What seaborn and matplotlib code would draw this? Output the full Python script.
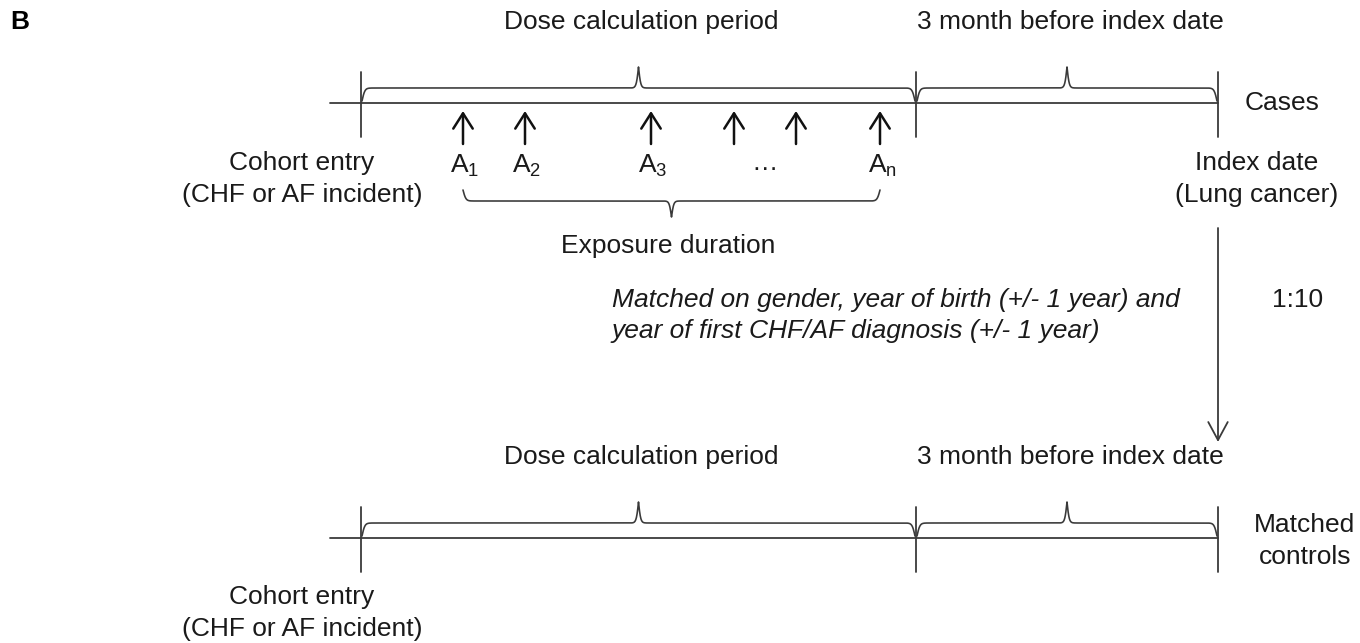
import numpy as np
import matplotlib
matplotlib.use('Agg')
import matplotlib.pyplot as plt
import seaborn as sns

# timeline points (pixel positions along the diagram)
timeline_start = 330
cohort_entry = 361
dose_end = 916
index_date = 1218
rows = [103, 538]              # y of the cases / controls timelines
row_labels = ['Cases', 'Matched\ncontrols']
periods = ['Dose calculation period', '3 month before index date']

# prescription dates A1..An
rx_times = [463, 525, 651, 734, 796, 880]
rx_labels = ['A$\\mathregular{_1}$', 'A$\\mathregular{_2}$', 'A$\\mathregular{_3}$',
             None, None, 'A$\\mathregular{_n}$']

matching_text = ['Matched on gender, year of birth (+/- 1 year) and',
                 'year of first CHF/AF diagnosis (+/- 1 year)']
ratio = '1:10'

LC = '#3a3a3a'
LW = 1.3


def brace(ax, x0, x1, y, a_end, a_peak, flip=1, b_end=0.7, b_peak=0.9):
    # curly brace from x0 to x1; flat part at y, ends bend by a_end, tip by a_peak
    half = (x1 - x0) / 2
    t = np.linspace(0, half, 800)
    sig = lambda z: 1 / (1 + np.exp(-z))
    off = a_end * (1 - (2 * sig(b_end * t) - 1)) - a_peak * 2 * sig(b_peak * (t - half))
    xs = np.concatenate([x0 + t, x1 - t[::-1]])
    ys = np.concatenate([y + flip * off, y + flip * off[::-1]])
    ax.plot(xs, ys, color=LC, lw=LW * 0.9, solid_capstyle='round')


sns.set_theme(style='white')
plt.rcParams['font.family'] = ['Liberation Sans', 'DejaVu Sans']
plt.rcParams['mathtext.fontset'] = 'custom'
plt.rcParams['mathtext.rm'] = 'Liberation Sans'
fig = plt.figure(figsize=(13.6, 6.43), dpi=100)
ax = fig.add_axes([0, 0, 1, 1])
ax.set_xlim(0, 1360)
ax.set_ylim(643, 0)
ax.axis('off')

FS = 19
TC = '#1a1a1a'
LS = 1.38
ax.text(10, 22, 'B', fontsize=19, fontweight='bold', va='center', ha='left', color='black')

edges = [cohort_entry, dose_end, index_date]
for r, (y, lab) in enumerate(zip(rows, row_labels)):
    sns.lineplot(x=[timeline_start, index_date], y=[y, y], ax=ax, color=LC, lw=LW)
    for xe in edges:
        ax.plot([xe, xe], [y - 31, y + 34], color=LC, lw=LW)
    for (xa, xb), name in zip([(cohort_entry, dose_end), (dose_end, index_date)], periods):
        brace(ax, xa + 1, xb - 1, y - 15, a_end=13, a_peak=21)
        ax.text((xa + xb) / 2 + 3, y - 81, name, fontsize=FS, ha='center', va='center', color=TC)
    if r == 0:
        ax.text(1282, y, lab, fontsize=FS, ha='center', va='center', color=TC)
    else:
        ax.text(1305, y + 3, lab, fontsize=FS, ha='center', va='center', linespacing=LS, color=TC)

# cohort entry labels
for y in [179, 613]:
    ax.text(302, y, 'Cohort entry\n(CHF or AF incident)', fontsize=FS,
            ha='center', va='center', linespacing=LS, color=TC)
ax.text(1257, 179, 'Index date\n(Lung cancer)', fontsize=FS,
        ha='center', va='center', linespacing=LS, color=TC)

# prescription arrows
for xr, lab in zip(rx_times, rx_labels):
    ax.annotate('', xy=(xr, 111), xytext=(xr, 144),
                arrowprops=dict(arrowstyle='->,head_length=0.55,head_width=0.35',
                                color='#111111', lw=1.8, mutation_scale=20,
                                shrinkA=0, shrinkB=0))
    if lab:
        ax.text(xr + 2, 166, lab, fontsize=FS, ha='center', va='center', color=TC)
ax.text(765, 163, '…', fontsize=FS, ha='center', va='center', color=TC)

# exposure duration brace
brace(ax, rx_times[0], rx_times[-1], 201, a_end=11, a_peak=16, flip=-1)
ax.text(668, 246, 'Exposure duration', fontsize=FS, ha='center', va='center', color=TC)

# matching arrow
ax.annotate('', xy=(index_date, 442), xytext=(index_date, 228),
            arrowprops=dict(arrowstyle='->,head_length=0.65,head_width=0.35',
                            color=LC, lw=LW, mutation_scale=20,
                            shrinkA=0, shrinkB=0))
ax.text(612, 300, matching_text[0], fontsize=FS, style='italic', ha='left', va='center', color=TC)
ax.text(612, 331, matching_text[1], fontsize=FS, style='italic', ha='left', va='center', color=TC)
ax.text(1298, 300, ratio, fontsize=FS, ha='center', va='center', color=TC)

fig.savefig('out.png', dpi=100, facecolor='white')
